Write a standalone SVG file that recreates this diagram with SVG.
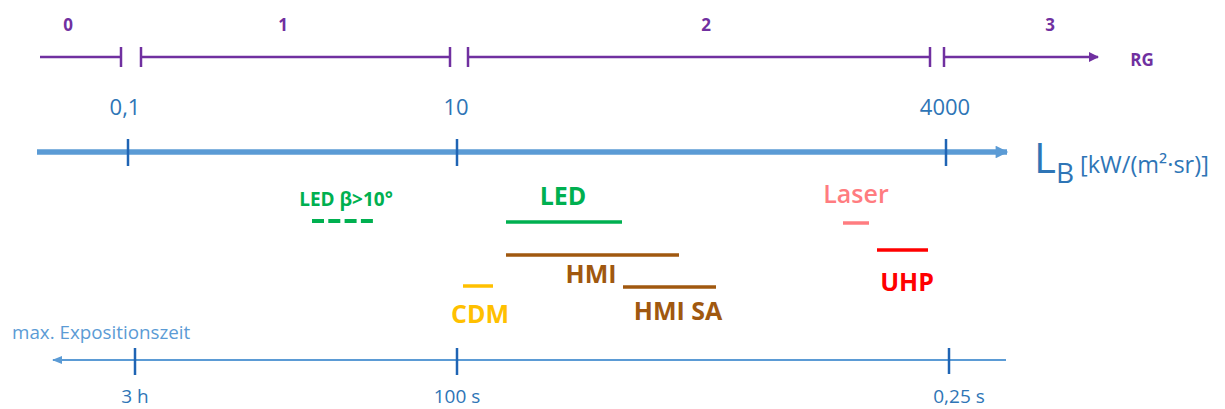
<svg xmlns="http://www.w3.org/2000/svg" width="1225" height="409" viewBox="0 0 1225 409">
<defs>
<style>
text{font-family:"Open Sans","Liberation Sans",sans-serif}
.p{stroke:#7030A0;stroke-width:2.5;fill:none}
.pt{fill:#7030A0;font-weight:bold;font-size:17px;text-anchor:middle}
.bt{fill:#2E75B6;font-size:22px;text-anchor:middle}
.tk{stroke:#1F64B4;stroke-width:2.5}
.st{fill:#2E75B6;font-size:19px;text-anchor:middle}
.lb{font-weight:bold;font-size:25px;text-anchor:middle}
</style>
<marker id="pa" viewBox="0 0 10 10" refX="9" refY="5" markerWidth="4" markerHeight="4" orient="auto"><path d="M0,0 L10,5 L0,10 Z" fill="#7030A0"/></marker>
<marker id="ba" viewBox="0 0 10 10" refX="9" refY="5" markerWidth="3" markerHeight="2.3" orient="auto"><path d="M0,0 L10,5 L0,10 Z" fill="#5B9BD5"/></marker>
<marker id="sa" viewBox="0 0 10 10" refX="9" refY="5" markerWidth="5" markerHeight="5" orient="auto"><path d="M0,1 L10,5 L0,9 Z" fill="#5B9BD5"/></marker>
</defs>
<g id="connectors">
<g id="rg-axis">
<line class="p" x1="40" y1="57" x2="121" y2="57"/>
<line class="p" x1="121" y1="47" x2="121" y2="67"/>
<line class="p" x1="141" y1="47" x2="141" y2="67"/>
<line class="p" x1="141" y1="57" x2="450" y2="57"/>
<line class="p" x1="450" y1="47" x2="450" y2="67"/>
<line class="p" x1="468" y1="47" x2="468" y2="67"/>
<line class="p" x1="468" y1="57" x2="930" y2="57"/>
<line class="p" x1="930" y1="47" x2="930" y2="67"/>
<line class="p" x1="944" y1="47" x2="944" y2="67"/>
<line class="p" x1="944" y1="57" x2="1098" y2="57" marker-end="url(#pa)"/>
</g>
<g id="lb-axis">
<line x1="37" y1="152" x2="1007" y2="152" stroke="#5B9BD5" stroke-width="5.5" marker-end="url(#ba)"/>
<line class="tk" x1="128" y1="139" x2="128" y2="166"/>
<line class="tk" x1="457" y1="139" x2="457" y2="166"/>
<line class="tk" x1="946" y1="139" x2="946" y2="166"/>
</g>
<g id="time-axis">
<line x1="1006" y1="360" x2="53" y2="360" stroke="#5B9BD5" stroke-width="2" marker-end="url(#sa)"/>
<line class="tk" x1="135" y1="348" x2="135" y2="375"/>
<line class="tk" x1="457" y1="348" x2="457" y2="375"/>
<line class="tk" x1="949" y1="348" x2="949" y2="374"/>
</g>
</g>
<g id="rg-labels">
<text class="pt" x="68" y="31">0</text>
<text class="pt" x="283" y="31">1</text>
<text class="pt" x="706" y="31">2</text>
<text class="pt" x="1050" y="31">3</text>
<text class="pt" x="1142" y="66">RG</text>
</g>
<g id="lb-labels">
<text class="bt" x="125" y="115">0,1</text>
<text class="bt" x="456" y="115">10</text>
<text class="bt" x="945" y="115">4000</text>
<text x="1034" y="173" fill="#2E75B6" font-size="42">L<tspan font-size="28" dy="10">B</tspan><tspan font-size="23.5" dy="-10" dx="6">[kW/(m²·sr)]</tspan></text>
</g>
<g id="led-beta">
<text x="346" y="206" fill="#00B050" font-size="19" font-weight="bold" text-anchor="middle">LED β&gt;10°</text>
<line x1="312" y1="221" x2="373" y2="221" stroke="#00B050" stroke-width="4" stroke-dasharray="12,4.3"/>
</g>
<g id="led">
<text class="lb" x="563" y="205" fill="#00B050">LED</text>
<line x1="506" y1="222" x2="622" y2="222" stroke="#00B050" stroke-width="3.5"/>
</g>
<g id="laser">
<text x="856" y="203" fill="#FF7C80" font-size="25" font-weight="600" text-anchor="middle">Laser</text>
<line x1="843" y1="223" x2="869" y2="223" stroke="#FF7C80" stroke-width="3.5"/>
</g>
<g id="hmi">
<line x1="506" y1="255" x2="679" y2="255" stroke="#A0580F" stroke-width="3.5"/>
<text class="lb" x="591" y="283" fill="#A0580F">HMI</text>
</g>
<g id="hmi-sa">
<line x1="623" y1="287" x2="716" y2="287" stroke="#A0580F" stroke-width="3.5"/>
<text class="lb" x="678" y="320" fill="#A0580F">HMI SA</text>
</g>
<g id="uhp">
<line x1="877" y1="250" x2="928" y2="250" stroke="#FF0000" stroke-width="3.5"/>
<text class="lb" x="907" y="291" fill="#FF0000">UHP</text>
</g>
<g id="cdm">
<line x1="463" y1="286" x2="493" y2="286" stroke="#FFC000" stroke-width="3.5"/>
<text class="lb" x="480" y="323" fill="#FFC000" font-size="26">CDM</text>
</g>
<g id="time-labels">
<text x="12" y="339" fill="#5B9BD5" font-size="18.8">max. Expositionszeit</text>
<text class="st" x="135" y="403">3 h</text>
<text class="st" x="457" y="403">100 s</text>
<text class="st" x="959" y="403">0,25 s</text>
</g>
</svg>
